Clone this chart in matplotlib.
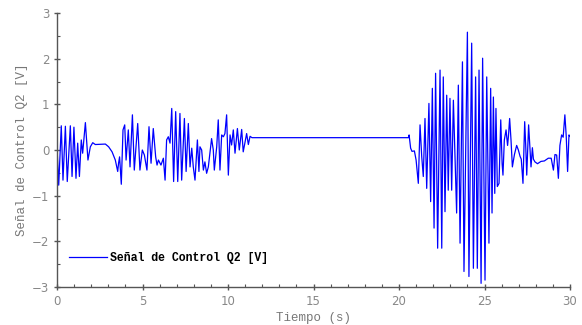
import matplotlib
matplotlib.use("Agg")
import matplotlib.pyplot as plt
from matplotlib.ticker import MultipleLocator

# Time (s) and control signal (V)
t = [0.0, 0.02, 0.1, 0.25, 0.35, 0.49, 0.6, 0.78, 0.88, 0.99, 1.11, 1.21, 1.31, 1.42, 1.5,
     1.66, 1.81, 1.95, 2.09, 2.24, 2.83, 3.02, 3.22, 3.41, 3.55, 3.6, 3.66, 3.76, 3.86, 3.96,
     4.04, 4.17, 4.27, 4.41, 4.52, 4.72, 4.85, 4.99, 5.11, 5.26, 5.38, 5.5, 5.63, 5.77, 5.85,
     5.93, 6.08, 6.22, 6.32, 6.41, 6.51, 6.61, 6.71, 6.82, 6.94, 7.06, 7.19, 7.29, 7.45, 7.55,
     7.68, 7.78, 7.88, 7.97, 8.07, 8.21, 8.3, 8.36, 8.46, 8.56, 8.65, 8.75, 8.85, 8.95, 9.04,
     9.14, 9.2, 9.34, 9.43, 9.53, 9.63, 9.73, 9.82, 9.92, 10.02, 10.12, 10.21, 10.31, 10.41,
     10.55, 10.66, 10.8, 10.89, 11.09, 11.19, 11.29, 11.4, 20.55,
     20.59, 20.68, 20.76, 20.9, 21.0, 21.13, 21.23, 21.33, 21.42, 21.52, 21.62, 21.75, 21.85,
     21.95, 22.05, 22.14, 22.26, 22.4, 22.5, 22.59, 22.69, 22.79, 22.88, 22.98, 23.08, 23.18,
     23.37, 23.47, 23.57, 23.71, 23.8, 24.0, 24.09, 24.25, 24.35, 24.48, 24.58, 24.68, 24.8,
     24.89, 25.03, 25.13, 25.26, 25.36, 25.44, 25.52, 25.6, 25.67, 25.75, 25.85, 25.95, 26.03,
     26.08, 26.16, 26.26, 26.35, 26.4, 26.47, 26.55, 26.63, 26.75, 26.88, 26.98, 27.08, 27.15,
     27.25, 27.35, 27.41, 27.47, 27.58, 27.65, 27.72, 27.8, 27.86, 27.95, 28.1, 28.3, 28.5,
     28.73, 28.9, 29.03, 29.12, 29.22, 29.32, 29.41, 29.51, 29.6, 29.7, 29.78, 29.86, 29.94, 30.0]
u = [-0.1, -0.1, -0.77, 0.53, -0.66, 0.52, -0.69, 0.53, -0.58, 0.5, -0.62, 0.15, -0.58, 0.22, -0.07,
     0.6, -0.22, 0.07, 0.16, 0.12, 0.13, 0.07, -0.04, -0.22, -0.47, -0.29, -0.15, -0.75, 0.44, 0.55,
     -0.22, 0.44, -0.37, 0.77, -0.44, 0.58, -0.44, 0.0, -0.11, -0.44, 0.51, -0.29, 0.47, -0.15, -0.33,
     -0.22, -0.33, -0.18, -0.66, 0.22, 0.29, 0.15, 0.91, -0.69, 0.84, -0.69, 0.8, -0.66, 0.69, -0.47,
     0.58, -0.37, 0.04, -0.37, -0.66, 0.22, -0.47, 0.07, 0.0, -0.44, -0.26, -0.51, -0.37, -0.04, 0.25,
     0.0, -0.44, 0.07, 0.66, -0.44, 0.33, 0.29, 0.36, 0.77, -0.55, 0.33, 0.11, 0.44, -0.07,
     0.47, 0.0, 0.45, -0.04, 0.36, 0.12, 0.3, 0.27, 0.27,
     0.33, 0.04, -0.03, -0.02, -0.22, -0.73, 0.55, -0.15, -0.58, 0.69, -0.84, 1.02, -1.13,
     1.35, -1.71, 1.68, -2.15, 1.75, -2.15, 1.6, -1.35, 1.2, -0.88, 1.13, -0.88, 1.09,
     -1.38, 1.42, -2.04, 1.93, -2.66, 2.58, -2.77, 2.34, -2.59, 1.6, -2.59, 1.75, -2.92,
     2.01, -2.85, 1.6, -2.04, 1.35, -1.38, 1.16, -0.95, 0.91, -0.8, -0.73, 0.66, -0.3,
     -0.55, 0.22, 0.44, 0.1, 0.3, 0.69, 0.22, -0.37, -0.1, 0.1, 0.0, -0.14, -0.2,
     -0.73, 0.62, 0.1, -0.55, 0.55, 0.1, -0.37, 0.05, -0.2, -0.26, -0.3, -0.25, -0.24,
     -0.18, -0.18, -0.44, -0.1, -0.11, -0.62, 0.1, 0.33, 0.28, 0.77, 0.3, -0.47, 0.33, 0.3]

series_label = "Señal de Control Q2 [V]"
x_label = "Tiempo (s)"
y_label = "Señal de Control Q2 [V]"

fig = plt.figure(figsize=(5.82, 3.25), dpi=100)
ax = fig.add_axes([57 / 582, 38 / 325, 513 / 582, 274 / 325])

ax.plot(t, u, color="#0000ff", lw=0.9, label=series_label)

ax.set_xlim(0, 30)
ax.set_ylim(-3, 3)
ax.xaxis.set_major_locator(MultipleLocator(5))
ax.xaxis.set_minor_locator(MultipleLocator(1))
ax.yaxis.set_major_locator(MultipleLocator(1))
ax.yaxis.set_minor_locator(MultipleLocator(0.5))

for s in ["top", "right"]:
    ax.spines[s].set_visible(False)
for s in ["left", "bottom"]:
    ax.spines[s].set_color("#555555")
    ax.spines[s].set_linewidth(1.0)

ax.tick_params(which="major", direction="inout", length=5, width=1, color="#555555",
               labelsize=8.5, labelcolor="#888888", pad=3)
ax.tick_params(which="minor", direction="in", length=2.5, width=0.8, color="#555555")

mono = "Liberation Mono"
ax.set_xlabel(x_label, family=mono, fontsize=9, color="#777777", labelpad=3)
ax.set_ylabel(y_label, family=mono, fontsize=9, color="#777777", labelpad=3)

leg = ax.legend(loc="lower left", bbox_to_anchor=(0.003, 0.045), frameon=False,
                handlelength=3.3, handletextpad=0.3,
                prop={"family": mono, "weight": "bold", "size": 8.3})

fig.savefig("out.png", dpi=100)
